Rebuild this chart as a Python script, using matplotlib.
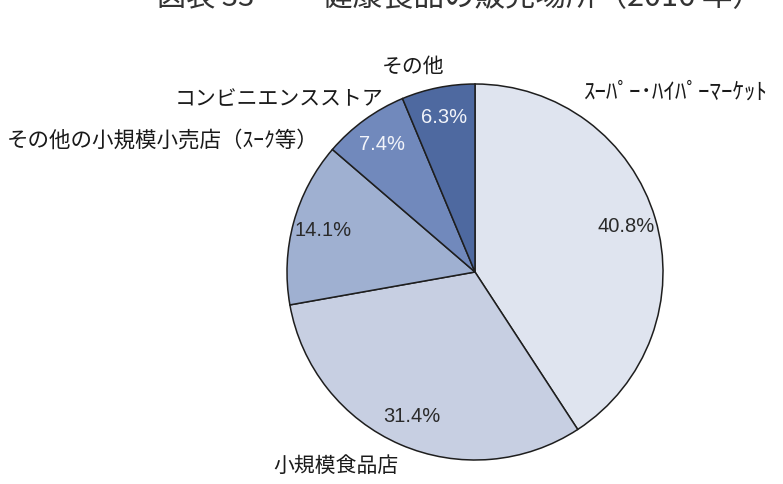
import matplotlib.pyplot as plt

# data
labels = ['ｽｰﾊﾟｰ･ﾊｲﾊﾟｰﾏｰｹｯﾄ', '小規模食品店', 'その他の小規模小売店（ｽｰｸ等）',
          'コンビニエンスストア', 'その他']
shares = [40.8, 31.4, 14.1, 7.4, 6.3]
colors = ['#dfe4ef', '#c7cfe2', '#9fb0d1', '#7189bc', '#4e69a0']
pct_colors = ['#2a2a2a', '#2a2a2a', '#2a2a2a', '#f2f4fa', '#f2f4fa']
title_no = '図表 33'
title_text = '健康食品の販売場所（2016 年）'

W, H = 783, 484
jp = ['Noto Sans CJK JP', 'DejaVu Sans']
num = ['Liberation Sans', 'DejaVu Sans']


def px(x, y):
    return x / W, 1 - y / H


fig = plt.figure(figsize=(W / 100, H / 100), dpi=100)
fig.patch.set_facecolor('white')

# pie centred at (475, 272) px, radius 188 px
r = 188
ax = fig.add_axes([(475 - r) / W, (H - 272 - r) / H, 2 * r / W, 2 * r / H])
wedges, texts, autotexts = ax.pie(
    shares, colors=colors, startangle=90, counterclock=False,
    autopct='%.1f%%', pctdistance=0.84,
    wedgeprops=dict(edgecolor='#1e1e1e', linewidth=1.1),
)
for t, c in zip(autotexts, pct_colors):
    t.set_color(c)
    t.set_family(num)
    t.set_fontsize(14.5)
ax.set_xlim(-1, 1)
ax.set_ylim(-1, 1)
ax.axis('off')

# category labels around the pie
label_pos = [(676, 92), (336, 466), (163, 141), (279, 99), (413, 67)]
label_size = [16.5, 15, 15.5, 15, 15]
for lab, (x, y), s in zip(labels, label_pos, label_size):
    fig.text(*px(x, y), lab, ha='center', va='center', fontsize=s,
             family=jp, color='#1a1a1a')

# title, top half clipped off like the source
fig.text(*px(157, 6), title_no, ha='left', va='baseline', fontsize=21,
         family=jp, color='#333333')
fig.text(*px(322, 6), title_text, ha='left', va='baseline', fontsize=22,
         family=jp, color='#333333')

fig.savefig('out.png', dpi=100)
